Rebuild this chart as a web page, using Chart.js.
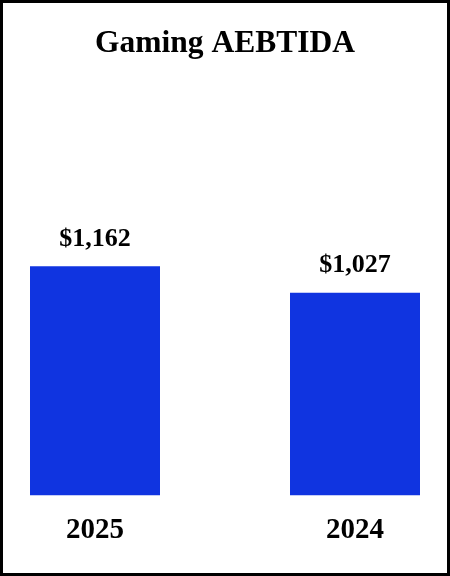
<!DOCTYPE html>
<html>
<head>
<meta charset="utf-8">
<script src="https://cdn.jsdelivr.net/npm/chart.js@4/dist/chart.umd.min.js"></script>
<style>
  html, body { margin: 0; padding: 0; background: #fff; }
  #frame { width: 450px; height: 576px; box-sizing: border-box; border: 3px solid #000; background: #fff; }
  #wrap { width: 444px; height: 570px; position: relative; }
</style>
</head>
<body>
<div id="frame"><div id="wrap"><canvas id="c" width="444" height="570"></canvas></div></div>
<script>
const chartTitle = "Gaming AEBTIDA";
const categories = ["2025", "2024"];
const values = [1162, 1027];
const valueLabels = ["$1,162", "$1,027"];

const FONT = "'Liberation Serif', 'Times New Roman', serif";

const valueLabelPlugin = {
  id: 'valueLabels',
  afterDatasetsDraw(chart) {
    const ctx = chart.ctx;
    const meta = chart.getDatasetMeta(0);
    ctx.save();
    ctx.font = "bold 26px " + FONT;
    ctx.fillStyle = "#000";
    ctx.textAlign = "center";
    ctx.textBaseline = "middle";
    meta.data.forEach((bar, i) => {
      ctx.fillText(valueLabels[i], bar.x, bar.y - 27);
    });
    ctx.restore();
  }
};

new Chart(document.getElementById('c'), {
  type: 'bar',
  data: {
    labels: categories,
    datasets: [{
      data: values,
      backgroundColor: "rgb(16,52,224)",
      borderWidth: 0,
      categoryPercentage: 1,
      barPercentage: 0.5,
      clip: false
    }]
  },
  options: {
    responsive: false,
    animation: false,
    devicePixelRatio: 1,
    layout: { padding: { left: 92, right: 92, top: 0, bottom: 7 } },
    plugins: {
      legend: { display: false },
      tooltip: { enabled: false },
      title: {
        display: true,
        text: chartTitle,
        color: "#000",
        font: { family: FONT, size: 32, weight: 'bold', lineHeight: 1.2 },
        padding: { top: 22, bottom: 37.6 }
      }
    },
    scales: {
      x: {
        offset: false,
        grid: { display: false, drawTicks: false },
        border: { display: false },
        ticks: { color: "#000", padding: 18, font: { family: FONT, size: 29, weight: 'bold', lineHeight: 1.2 } }
      },
      y: {
        display: false,
        min: 0,
        max: 2000
      }
    }
  },
  plugins: [valueLabelPlugin]
});
</script>
</body>
</html>
